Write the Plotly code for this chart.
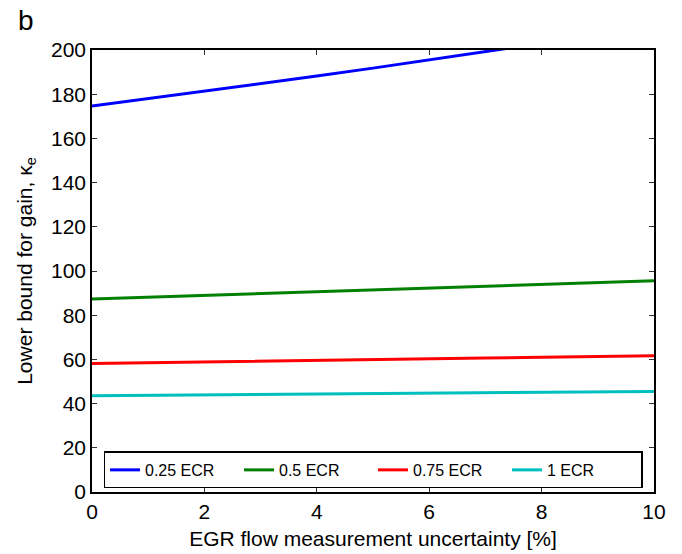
import plotly.graph_objects as go

x_pct = [0, 1, 2, 3, 4, 5, 6, 7, 8, 9, 10]
blue_025 = [174.7, 178.0, 181.3, 184.7, 188.2, 191.8, 195.5, 199.0, 202.8, 206.6, 210.5]
green_05 = [87.3, 88.1, 88.9, 89.7, 90.5, 91.4, 92.2, 93.0, 93.9, 94.7, 95.6]
red_075 = [58.2, 58.5, 58.9, 59.2, 59.6, 59.9, 60.3, 60.6, 61.0, 61.3, 61.7]
cyan_1 = [43.5, 43.7, 43.9, 44.1, 44.3, 44.5, 44.7, 44.9, 45.1, 45.3, 45.5]

series = [
    ("0.25 ECR", blue_025, "#0000ff"),
    ("0.5 ECR", green_05, "#008000"),
    ("0.75 ECR", red_075, "#ff0000"),
    ("1 ECR", cyan_1, "#00bfbf"),
]

fig = go.Figure()
for name, vals, col in series:
    fig.add_trace(go.Scatter(x=x_pct, y=vals, mode="lines", name=name,
                             line=dict(color=col, width=3)))

font = "Liberation Sans, Arial, sans-serif"
axis_common = dict(showline=True, linecolor="black", linewidth=1.5, mirror="allticks",
                   ticks="inside", ticklen=5, tickcolor="#333", showgrid=False, zeroline=False,
                   automargin=False,
                   tickfont=dict(size=21, color="black", family=font))
fig.update_xaxes(range=[0, 10], dtick=2, title=dict(text="EGR flow measurement uncertainty [%]",
                 font=dict(size=21, color="black", family=font), standoff=9), **axis_common)
fig.update_yaxes(range=[0, 200], dtick=20, title=dict(text="Lower bound for gain, κ<sub>e</sub>",
                 font=dict(size=21, color="black", family=font), standoff=13), **axis_common)

fig.update_layout(
    width=682, height=554,
    margin=dict(l=92, r=28, t=50, b=62),
    paper_bgcolor="white", plot_bgcolor="white",
    font=dict(family=font, color="black"),
    showlegend=True,
    legend=dict(orientation="h", x=0.5, xanchor="center", y=0.008, yanchor="bottom",
                bordercolor="black", borderwidth=1.5, bgcolor="white",
                font=dict(size=16, family=font, color="black"),
                entrywidth=89, entrywidthmode="pixels"),
    annotations=[dict(text="b", x=-0.135, y=1.066, xref="paper", yref="paper",
                      xanchor="left", yanchor="middle", showarrow=False,
                      font=dict(size=28, family=font, color="black"))],
)

fig.write_html("out.html")
